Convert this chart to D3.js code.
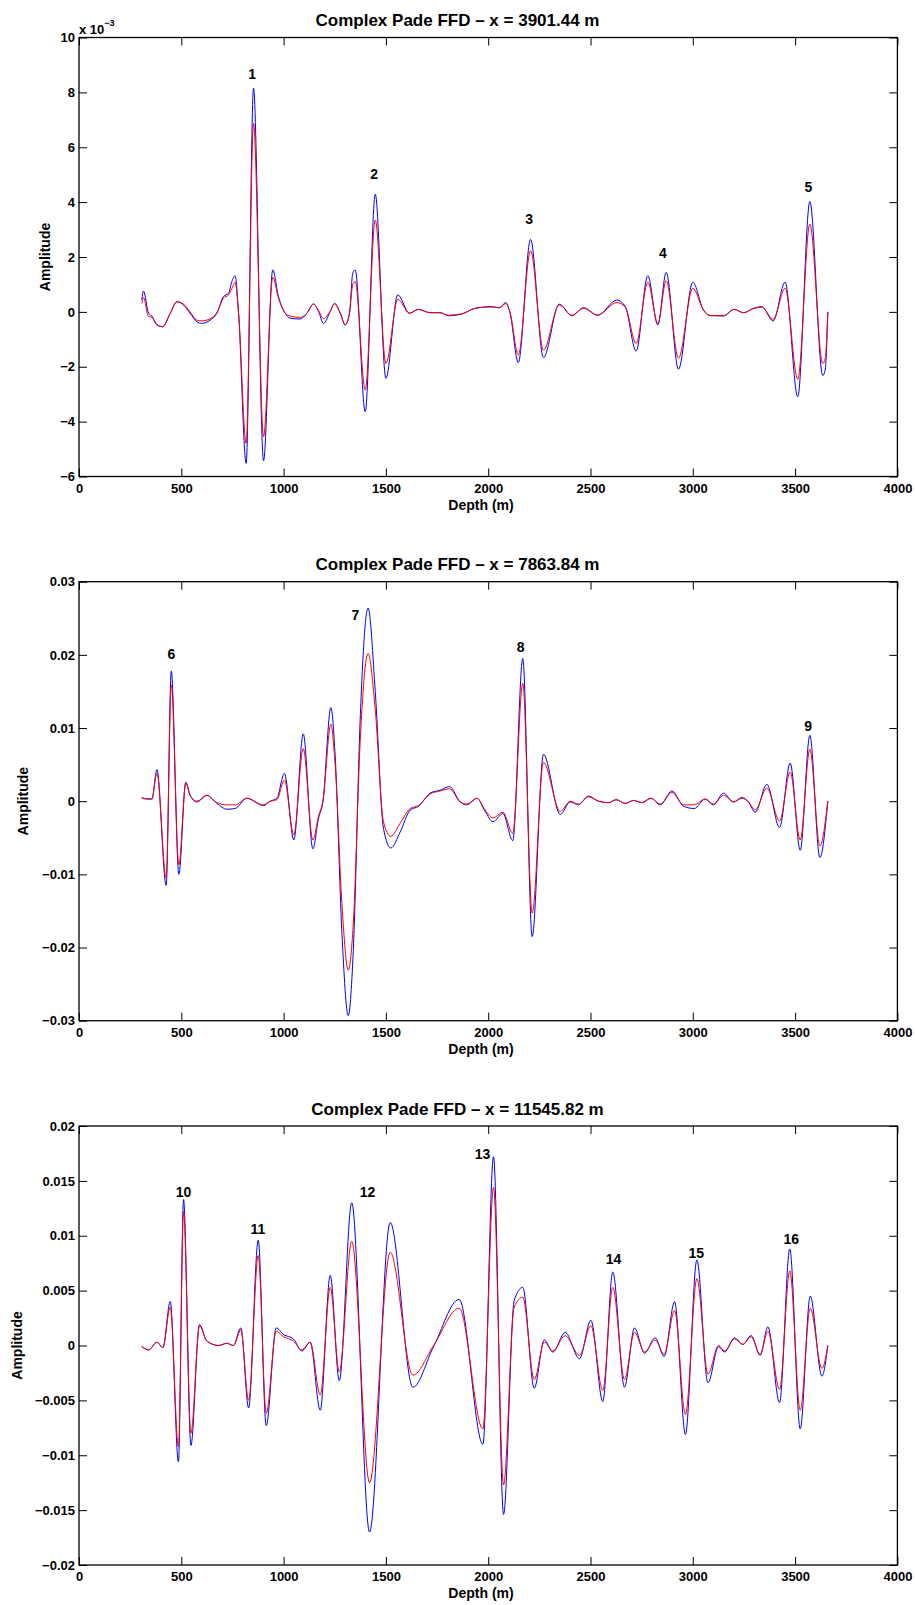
<!DOCTYPE html>
<html><head><meta charset="utf-8">
<script src="https://cdn.jsdelivr.net/npm/d3@7"></script>
<style>
body{margin:0;background:#fff}
svg{display:block}
text{font-family:"Liberation Sans",Arial,Helvetica,sans-serif;font-weight:bold;fill:#000}
</style>
</head><body>
<svg id="chart" width="915" height="1605"></svg>
<script>
// ---------------- data ----------------
const xTicks = [0,500,1000,1500,2000,2500,3000,3500,4000];
const titles = ["Complex Pade FFD \u2013 x = 3901.44 m","Complex Pade FFD \u2013 x = 7863.84 m","Complex Pade FFD \u2013 x = 11545.82 m"];

// Panel 1 (amplitude in units of 10^-3)
const yTicks1 = [-6,-4,-2,0,2,4,6,8,10];
const depth1 = [307,315,340,356,381,408,446,478,511,543,576,600,641,674,706,731,747,763,780,817,853,902,947,975,1008,1032,1081,1114,1146,1171,1195,1228,1249,1277,1301,1322,1338,1350,1399,1448,1500,1558,1615,1659,1716,1765,1806,1871,1936,2018,2055,2086,2107,2147,2207,2270,2347,2409,2466,2535,2629,2670,2723,2780,2829,2870,2930,3000,3052,3085,3150,3202,3248,3297,3337,3393,3451,3513,3572,3635,3647,3660];
const blue1 = [0.43,0.76,-0.05,-0.15,-0.48,-0.54,-0.05,0.37,0.25,-0.05,-0.36,-0.42,-0.30,-0.05,0.56,0.68,1.10,1.32,-0.05,-5.52,8.15,-5.43,1.53,0.56,-0.05,-0.23,-0.26,-0.05,0.29,0.01,-0.42,0.01,0.31,-0.05,-0.48,-0.05,1.41,1.53,-3.64,4.29,-2.42,0.62,-0.05,0.09,-0.03,-0.03,-0.14,-0.08,0.13,0.19,0.15,0.34,-0.05,-1.85,2.64,-1.67,0.28,-0.14,0.15,-0.12,0.43,0.19,-1.43,1.32,-0.48,1.44,-2.09,1.08,0.07,-0.14,-0.15,0.09,-0.03,0.13,0.19,-0.33,1.08,-3.09,4.02,-2.32,-2.12,0];
const red1 = [0.31,0.52,-0.17,-0.20,-0.46,-0.54,-0.05,0.37,0.28,0.0,-0.30,-0.33,-0.25,-0.02,0.50,0.62,0.85,1.08,-0.05,-4.79,6.87,-4.55,1.26,0.50,-0.05,-0.15,-0.20,-0.05,0.29,0.05,-0.25,0.03,0.29,-0.05,-0.46,-0.05,1.00,1.10,-2.85,3.35,-1.88,0.46,-0.05,0.09,-0.03,-0.03,-0.12,-0.07,0.13,0.18,0.15,0.30,-0.02,-1.57,2.23,-1.39,0.25,-0.12,0.13,-0.12,0.34,0.17,-1.15,1.08,-0.42,1.14,-1.69,0.86,0.07,-0.13,-0.14,0.09,-0.03,0.12,0.17,-0.27,0.86,-2.46,3.20,-1.88,-1.70,0];
const marks1 = ["1","2","3","4","5"];
const markDepth1 = [846,1443,2200,2854,3565];
const markAmp1 = [8.66,5.02,3.38,2.13,4.54];

// Panel 2
const yTicks2 = [-0.03,-0.02,-0.01,0,0.01,0.02,0.03];
const depth2 = [307,332,356,381,426,451,488,522,543,576,625,674,723,763,820,902,934,967,1004,1050,1096,1143,1171,1192,1231,1252,1285,1316,1342,1374,1413,1448,1488,1524,1570,1619,1659,1716,1765,1811,1863,1896,1945,1985,2023,2072,2120,2169,2215,2270,2352,2401,2441,2490,2539,2588,2626,2670,2710,2751,2795,2841,2898,2955,3007,3060,3101,3150,3199,3240,3272,3305,3362,3424,3476,3525,3572,3621,3660];
const blue2 = [0.0005,0.0003,0.0003,0.0043,-0.0115,0.0178,-0.0100,0.0026,0.0008,-0.0001,0.0008,-0.0003,-0.0011,-0.0010,0.0004,-0.0006,0.0000,0.0004,0.0038,-0.0053,0.0092,-0.0065,-0.0023,-0.0001,0.0128,0.0062,-0.0180,-0.0293,-0.0195,0.0110,0.0264,0.0150,-0.0037,-0.0064,-0.0042,-0.0012,-0.0007,0.0011,0.0015,0.0020,-0.0001,-0.0005,0.0004,-0.0014,-0.0028,-0.0017,-0.0054,0.0195,-0.0185,0.0064,-0.0018,-0.0001,-0.0005,0.0007,0.0000,-0.0002,0.0002,-0.0003,0.0001,-0.0002,0.0004,-0.0005,0.0014,-0.0007,-0.0010,0.0003,-0.0005,0.0011,-0.0001,0.0005,-0.0001,-0.0015,0.0023,-0.0036,0.0052,-0.0067,0.0090,-0.0077,0];
const red2 = [0.0004,0.0003,0.0003,0.0038,-0.0105,0.0159,-0.0087,0.0025,0.0008,0.0000,0.0008,-0.0002,-0.0005,-0.0005,0.0004,-0.0005,0.0000,0.0002,0.0029,-0.0046,0.0072,-0.0053,-0.0020,0.0000,0.0105,0.0050,-0.0140,-0.0231,-0.0160,0.0080,0.0202,0.0125,-0.0028,-0.0048,-0.0030,-0.0010,-0.0006,0.0010,0.0014,0.0017,-0.0001,-0.0004,0.0004,-0.0012,-0.0023,-0.0015,-0.0044,0.0161,-0.0153,0.0053,-0.0014,0.0000,-0.0004,0.0006,0.0000,-0.0002,0.0002,-0.0003,0.0001,-0.0002,0.0004,-0.0004,0.0012,-0.0005,-0.0005,0.0003,-0.0004,0.0008,-0.0001,0.0004,-0.0001,-0.0012,0.0018,-0.0027,0.0040,-0.0053,0.0071,-0.0061,0];
const marks2 = ["6","7","8","9"];
const markDepth2 = [451,1351,2158,3564];
const markAmp2 = [0.0201,0.0254,0.0211,0.0103];

// Panel 3
const yTicks3 = [-0.02,-0.015,-0.01,-0.005,0,0.005,0.01,0.015,0.02];
const depth3 = [307,340,381,410,446,486,511,547,589,625,682,723,755,791,829,876,915,964,1000,1048,1089,1130,1179,1228,1272,1333,1420,1521,1632,1733,1858,1974,2026,2075,2127,2169,2225,2274,2316,2376,2446,2502,2560,2609,2666,2715,2764,2816,2860,2911,2964,3020,3074,3126,3155,3204,3245,3285,3329,3367,3424,3474,3525,3574,3631,3660];
const blue3 = [-0.0001,-0.0004,0.0003,-0.0002,0.0040,-0.0106,0.0133,-0.0091,0.0019,0.0004,0.0000,0.0002,0.0000,0.0016,-0.0057,0.0096,-0.0073,0.0016,0.0010,0.0006,-0.0005,0.0003,-0.0059,0.0064,-0.0032,0.0130,-0.0170,0.0112,-0.0038,-0.0001,0.0042,-0.0090,0.0172,-0.0154,0.0041,0.0053,-0.0039,0.0005,-0.0006,0.0012,-0.0012,0.0023,-0.0051,0.0067,-0.0038,0.0016,-0.0007,0.0007,-0.0010,0.0040,-0.0081,0.0078,-0.0034,-0.0001,-0.0006,0.0007,0.0001,0.0009,-0.0009,0.0017,-0.0052,0.0088,-0.0076,0.0045,-0.0028,0];
const red3 = [-0.0001,-0.0004,0.0003,-0.0002,0.0035,-0.0092,0.0122,-0.0080,0.0018,0.0004,0.0000,0.0002,0.0000,0.0014,-0.0050,0.0082,-0.0062,0.0013,0.0008,0.0004,-0.0004,0.0003,-0.0045,0.0053,-0.0024,0.0095,-0.0125,0.0085,-0.0027,0.0000,0.0034,-0.0076,0.0144,-0.0127,0.0035,0.0044,-0.0031,0.0003,-0.0005,0.0009,-0.0009,0.0018,-0.0041,0.0053,-0.0031,0.0012,-0.0006,0.0005,-0.0008,0.0032,-0.0063,0.0061,-0.0026,0.0000,-0.0005,0.0006,0.0001,0.0008,-0.0008,0.0013,-0.0040,0.0068,-0.0059,0.0034,-0.0021,0];
const marks3 = ["10","11","12","13","14","15","16"];
const markDepth3 = [511,874,1410,1972,2613,3017,3481];
const markAmp3 = [0.01395,0.0106,0.01395,0.0174,0.0079,0.00846,0.0097];

// ---------------- layout ----------------
const LEFT = 79, RIGHT = 897.4, PH = 439;
const tops = [37.5, 581.7, 1126];
const ylabelX = [50, 27.5, 22];
const TITLE_X = 457.5, XLABEL_X = 481;

const panels = [
  {depth:depth1, blue:blue1, red:red1, ticks:yTicks1, marks:marks1, md:markDepth1, ma:markAmp1, exp:true},
  {depth:depth2, blue:blue2, red:red2, ticks:yTicks2, marks:marks2, md:markDepth2, ma:markAmp2, exp:false},
  {depth:depth3, blue:blue3, red:red3, ticks:yTicks3, marks:marks3, md:markDepth3, ma:markAmp3, exp:false}
];

const svg = d3.select("#chart");
const fmt = v => (v < 0 ? "\u2212" : "") + String(+Math.abs(v).toFixed(4));

panels.forEach((p, i) => {
  const top = tops[i], bottom = top + PH;
  const x = d3.scaleLinear().domain([0, 4000]).range([LEFT, RIGHT]);
  const y = d3.scaleLinear().domain(d3.extent(p.ticks)).range([bottom, top]);
  const g = svg.append("g");

  const TL = 8;
  g.append("g").attr("transform", `translate(0,${bottom})`)
    .call(d3.axisBottom(x).tickValues(xTicks).tickSizeInner(-TL).tickSizeOuter(0).tickPadding(7).tickFormat(d3.format("d")))
    .call(a => { a.select(".domain").remove(); a.selectAll("line").attr("stroke", "#000");
      a.selectAll("text").attr("font-size", 13).attr("font-family", null).attr("fill", "#000"); });
  g.append("g").attr("transform", `translate(0,${top})`)
    .call(d3.axisTop(x).tickValues(xTicks).tickSizeInner(-TL).tickSizeOuter(0).tickFormat(""))
    .call(a => { a.select(".domain").remove(); a.selectAll("line").attr("stroke", "#000"); });
  g.append("g").attr("transform", `translate(${LEFT},0)`)
    .call(d3.axisLeft(y).tickValues(p.ticks).tickSizeInner(-TL).tickSizeOuter(0).tickPadding(4).tickFormat(fmt))
    .call(a => { a.select(".domain").remove(); a.selectAll("line").attr("stroke", "#000");
      a.selectAll("text").attr("font-size", 13).attr("font-family", null).attr("fill", "#000"); });
  g.append("g").attr("transform", `translate(${RIGHT},0)`)
    .call(d3.axisRight(y).tickValues(p.ticks).tickSizeInner(-TL).tickSizeOuter(0).tickFormat(""))
    .call(a => { a.select(".domain").remove(); a.selectAll("line").attr("stroke", "#000"); });

  const pts = arr => p.depth.map((d, k) => [d, arr[k]]);
  const line = d3.line().x(d => x(d[0])).y(d => y(d[1])).curve(d3.curveMonotoneX);
  g.append("path").attr("d", line(pts(p.blue))).attr("fill", "none").attr("stroke", "#0000ff").attr("stroke-width", 1);
  g.append("path").attr("d", line(pts(p.red))).attr("fill", "none").attr("stroke", "#ff0000").attr("stroke-width", 1);

  g.append("rect").attr("x", LEFT).attr("y", top).attr("width", RIGHT - LEFT).attr("height", PH)
    .attr("fill", "none").attr("stroke", "#000").attr("stroke-width", 1.3);

  p.marks.forEach((m, k) => {
    g.append("text").attr("x", x(p.md[k])).attr("y", y(p.ma[k])).attr("dy", "0.35em")
      .attr("text-anchor", "middle").attr("font-size", 14).text(m);
  });

  g.append("text").attr("x", TITLE_X).attr("y", top - 11.5).attr("text-anchor", "middle")
    .attr("font-size", 17).text(titles[i]);
  g.append("text").attr("x", XLABEL_X).attr("y", bottom + 33).attr("text-anchor", "middle")
    .attr("font-size", 14).text("Depth (m)");
  g.append("text").attr("transform", `translate(${ylabelX[i]},${(top + bottom) / 2}) rotate(-90)`)
    .attr("text-anchor", "middle").attr("font-size", 14).text("Amplitude");

  if (p.exp) {
    const t = g.append("text").attr("x", LEFT).attr("y", top - 4).attr("font-size", 13);
    t.append("tspan").text("x 10");
    t.append("tspan").attr("dy", -8).attr("font-size", 9).text("\u22123");
  }
});
</script>
</body></html>
